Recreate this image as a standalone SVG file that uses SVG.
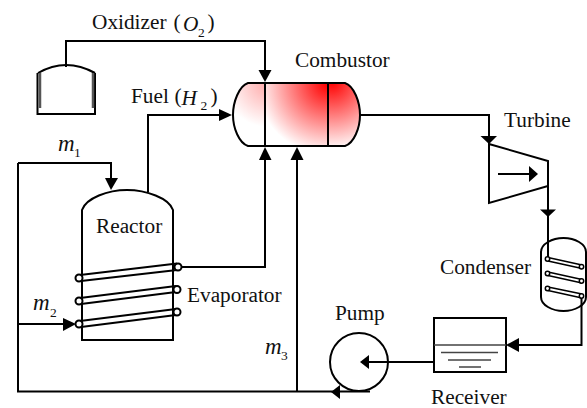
<svg xmlns="http://www.w3.org/2000/svg" width="587" height="408" viewBox="0 0 587 408">
<style>
.l{fill:none;stroke:#000;stroke-width:2}
.t{fill:none;stroke:#000;stroke-width:1.6}
.c{fill:#fff;stroke:#000;stroke-width:2}
.a{fill:#000}
text{font-family:"Liberation Serif","Times New Roman",serif;font-size:21.300px;fill:#111}
.i{font-style:italic}
.m{font-style:italic;font-size:23px}
.s{font-size:13.500px}
</style>
<defs>
<radialGradient id="gL" gradientUnits="userSpaceOnUse" cx="268" cy="83" r="44"><stop offset="0" stop-color="#ffa8a8"/><stop offset="1" stop-color="#fff"/></radialGradient>
<radialGradient id="gM" gradientUnits="userSpaceOnUse" cx="327" cy="84" r="70"><stop offset="0" stop-color="#f00"/><stop offset="1" stop-color="#fff"/></radialGradient>
<radialGradient id="gR" gradientUnits="userSpaceOnUse" cx="332" cy="82" r="68"><stop offset="0" stop-color="#f00"/><stop offset="1" stop-color="#fff"/></radialGradient>
</defs>
<rect width="587" height="408" fill="#fff"/>
<g id="connectors">
<path class="l" d="M66 67V41H265V72"/>
<path class="a" d="M258.500 70H271.500L265 82Z"/>
<path class="l" d="M148 192V115H222"/>
<path class="a" d="M219 109L232 115L219 121Z"/>
<path class="l" d="M18 163H111V180"/>
<path class="a" d="M105 178H118L111 190Z"/>
<path class="l" d="M18 163V391.500H370"/>
<path class="a" d="M340 385V399L331 392Z"/>
<path class="l" d="M18 324H66"/>
<path class="a" d="M63 318L76 324L63 331Z"/>
<path class="l" d="M182 267H265V158"/>
<path class="a" d="M259 160H271.500L265 147Z"/>
<path class="l" d="M297 391V158"/>
<path class="a" d="M290.500 160H303.500L297 147Z"/>
<path class="l" d="M360 115H489V137"/>
<path class="a" d="M480.500 136H497L489 144Z"/>
<path class="l" d="M548 186V259"/>
<path class="a" d="M540 209.500H556L548 217Z"/>
<path class="l" d="M581.500 297V345H517"/>
<path class="a" d="M519 338V352L506 345Z"/>
<path class="l" d="M434 362H367"/>
<path class="a" d="M369 355V369L360 362Z"/>
</g>
<g id="tank">
<path class="l" d="M37.500 73V114H95V73"/>
<path class="l" d="M38 73Q66 57 95 73"/>
<path d="M40 73V108M93 73V108" fill="none" stroke="#555" stroke-width="2.500"/>
</g>
<g id="combustor">
<path fill="url(#gL)" d="M248 83H265V146H248C239 143 233 128 233 115C233 102 239 86 248 83Z"/>
<rect x="265" y="83" width="63" height="63" fill="url(#gM)"/>
<path fill="url(#gR)" d="M328 83H345C354 86 360 102 360 115C360 128 354 143 345 146H328Z"/>
<path class="l" d="M248 83H345C354 86 360 102 360 115C360 128 354 143 345 146H248C239 143 233 128 233 115C233 102 239 86 248 83ZM265 83V146M328 83V146"/>
</g>
<g id="reactor">
<path class="l" d="M82 340V210C86 198 108 190 127 190C146 190 169 198 173 210V340Z"/>
<path class="l" d="M80 275L177 263.500M81 281L177 270"/>
<path class="l" d="M80 298L176 286M81 304L176 292"/>
<path class="l" d="M80 321L176 309M81 327L176 315"/>
<circle class="c" cx="79" cy="278" r="3.500"/><circle class="c" cx="178" cy="267" r="3.500"/>
<circle class="c" cx="79" cy="301" r="3.500"/><circle class="c" cx="177" cy="289.500" r="3.500"/>
<circle class="c" cx="79" cy="324" r="3.500"/><circle class="c" cx="177" cy="312" r="3.500"/>
</g>
<g id="turbine">
<path class="l" d="M489 144L548 161V186L489 203Z"/>
<path class="l" d="M498 174H531"/>
<path class="a" d="M529 166L538 174L529 182Z"/>
</g>
<g id="condenser">
<path class="l" d="M541 252C541 244 552 238 563.500 238C575 238 586 244 586 252V297C586 305 575 311 563.500 311C552 311 541 305 541 297Z"/>
<path class="t" d="M548 257.500L582 265M548 261L582 268.500M548 272L582 279.500M548 275.500L582 283M548 287L582 294M548 290.500L582 298"/>
<circle class="c" cx="547.500" cy="259" r="2.200" style="stroke-width:1.500"/><circle class="c" cx="581.500" cy="266.700" r="2.200" style="stroke-width:1.500"/>
<circle class="c" cx="547.500" cy="273.500" r="2.200" style="stroke-width:1.500"/><circle class="c" cx="581.500" cy="281" r="2.200" style="stroke-width:1.500"/>
<circle class="c" cx="547.500" cy="288.500" r="2.200" style="stroke-width:1.500"/><circle class="c" cx="581.500" cy="296" r="2.200" style="stroke-width:1.500"/>
</g>
<g id="receiver">
<rect class="l" x="434" y="318" width="72" height="54"/>
<path d="M434 345H506M441 352.500H498M448 360H491M459 367H481" fill="none" stroke="#444" stroke-width="1.500"/>
</g>
<g id="pump">
<circle class="l" cx="359" cy="362" r="29"/>
</g>
<g id="labels">
<text x="92" y="29">Oxidizer</text><text x="173.500" y="29">(</text><text x="183" y="31" class="i">O</text><text x="198" y="36.500" class="s">2</text><text x="207.500" y="29">)</text>
<text x="131" y="102.500">Fuel</text><text x="174.500" y="102.500">(</text><text x="181.500" y="104.500" class="i">H</text><text x="200.500" y="109.500" class="s">2</text><text x="210.500" y="102.500">)</text>
<text x="58" y="151" class="m">m</text><text x="74" y="157" class="s">1</text>
<text x="33" y="310" class="m">m</text><text x="50" y="317" class="s">2</text>
<text x="265" y="354" class="m">m</text><text x="281" y="360" class="s">3</text>
<text x="96" y="233">Reactor</text>
<text x="187" y="301.500">Evaporator</text>
<text x="295" y="66.500">Combustor</text>
<text x="504" y="126.500">Turbine</text>
<text x="440" y="274">Condenser</text>
<text x="335" y="320">Pump</text>
<text x="431" y="404">Receiver</text>
</g>
</svg>
